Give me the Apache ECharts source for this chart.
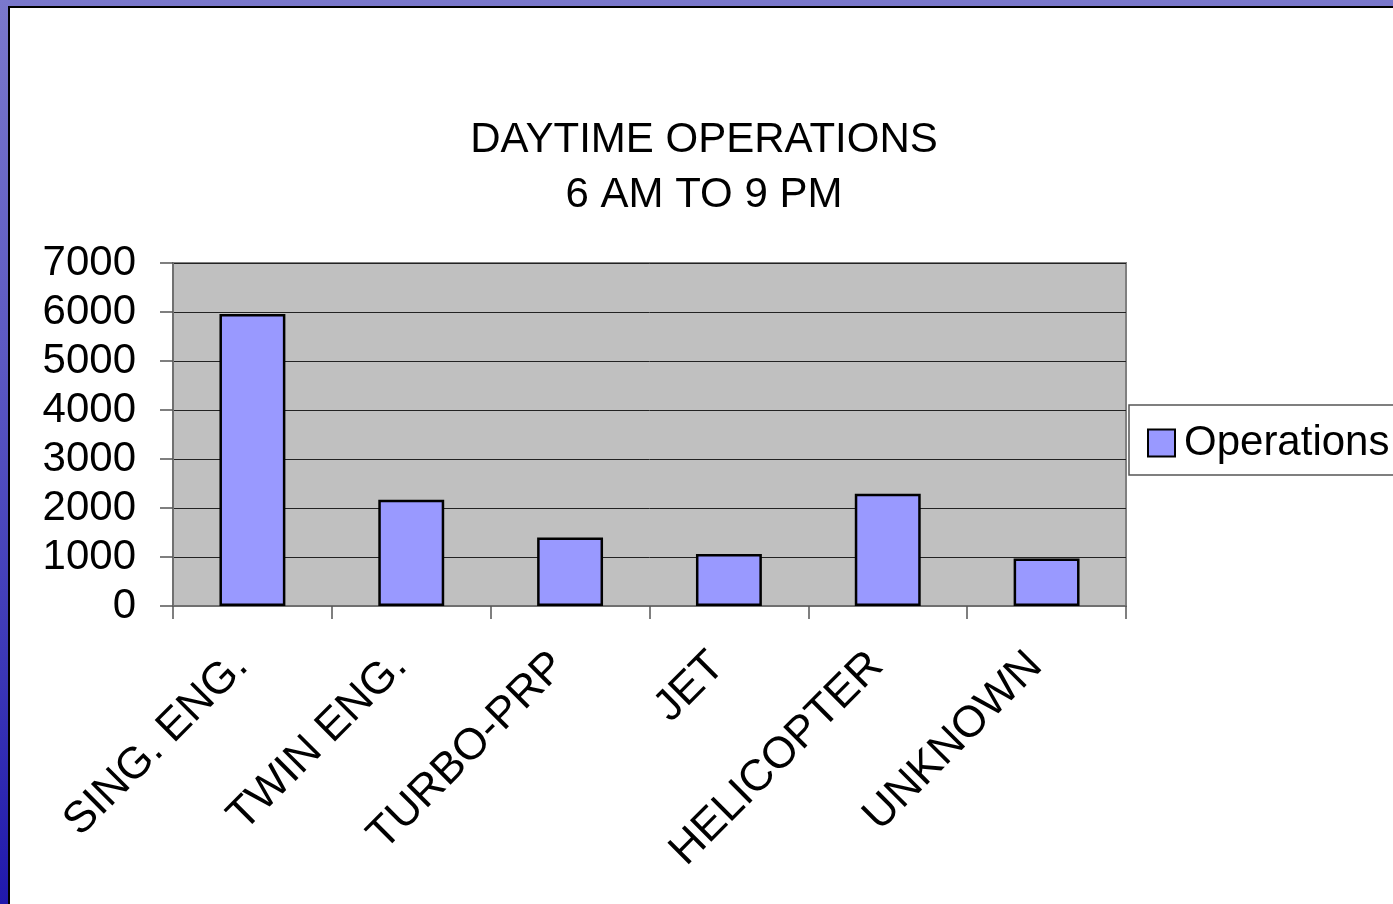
<!DOCTYPE html>
<html>
<head>
<meta charset="utf-8">
<script src="https://cdn.jsdelivr.net/npm/echarts@6/dist/echarts.min.js"></script>
<style>
  html, body { margin: 0; padding: 0; width: 1393px; height: 904px; overflow: hidden; }
  #frame { position: absolute; left: 0; top: 0; width: 1393px; height: 904px;
    background: linear-gradient(to bottom, #7a78cc 0%, #5b58c2 40%, #3a36b6 75%, #2018ac 100%); }
  #panel { position: absolute; left: 8px; top: 6px; right: 0; bottom: 0; background: #fff;
    border-left: 2px solid #000; border-top: 2px solid #000; }
  #chart { position: absolute; left: 0; top: 0; width: 1393px; height: 904px; }
</style>
</head>
<body>
<div id="frame"><div id="panel"></div></div>
<div id="chart"></div>
<script>
const categories = ["SING. ENG.", "TWIN ENG.", "TURBO-PRP", "JET", "HELICOPTER", "UNKNOWN"];
const operations = [5960, 2170, 1400, 1060, 2290, 970];
const yTicks = { min: 0, max: 7000, interval: 1000 };
const titleLines = ["DAYTIME OPERATIONS", "6 AM TO 9 PM"];
const seriesName = "Operations";

const FONT = "'Liberation Sans', Arial, sans-serif";
const chart = echarts.init(document.getElementById('chart'), null, { renderer: 'canvas' });
chart.setOption({
  backgroundColor: 'transparent',
  animation: false,
  title: {
    text: titleLines.join('\n'),
    left: 699, top: 108, textAlign: 'center',
    textStyle: { fontFamily: FONT, fontSize: 42, fontWeight: 'normal', color: '#000', lineHeight: 55 }
  },
  legend: {
    data: [seriesName],
    left: 1129, top: 405,
    padding: [17, 20, 11, 18],
    backgroundColor: '#fff',
    borderColor: '#555', borderWidth: 1.5,
    itemWidth: 27, itemHeight: 27, itemGap: 0,
    icon: 'rect',
    itemStyle: { borderColor: '#000', borderWidth: 2 },
    textStyle: { fontFamily: FONT, fontSize: 42, color: '#000', padding: [0, 0, 0, 4] }
  },
  grid: {
    left: 173, right: 267, top: 263, bottom: 298,
    show: true, backgroundColor: '#C0C0C0', borderColor: '#808080', borderWidth: 2,
    containLabel: false
  },
  xAxis: {
    type: 'category', data: categories, boundaryGap: true,
    axisLine: { lineStyle: { color: '#707070', width: 2 } },
    axisTick: { show: true, alignWithLabel: false, length: 13, lineStyle: { color: '#555', width: 1.5 } },
    axisLabel: { rotate: 45, margin: 42, fontFamily: FONT, fontSize: 44, color: '#000', interval: 0,
      padding: [0, 16, 0, 0] },
    splitLine: { show: false }
  },
  yAxis: {
    type: 'value', min: yTicks.min, max: yTicks.max, interval: yTicks.interval,
    axisLine: { show: true, lineStyle: { color: '#707070', width: 2 } },
    axisTick: { show: true, length: 13, lineStyle: { color: '#555', width: 1.5 } },
    axisLabel: { margin: 37, fontFamily: FONT, fontSize: 42, color: '#000', formatter: (v) => String(v) },
    splitLine: { show: true, lineStyle: { color: '#222', width: 1 } }
  },
  series: [{
    name: seriesName, type: 'bar', data: operations,
    barWidth: '41.5%',
    itemStyle: { color: '#9999FF', borderColor: '#000', borderWidth: 2.5 }
  }]
});
</script>
</body>
</html>
